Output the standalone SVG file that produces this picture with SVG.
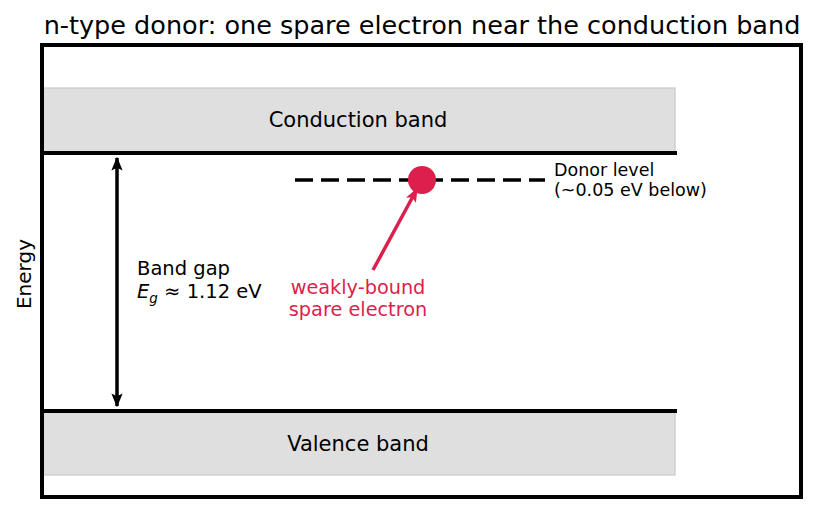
<svg xmlns="http://www.w3.org/2000/svg" width="815" height="512" viewBox="0 0 815 512">
<defs>
<style>
text{font-family:"DejaVu Sans","Liberation Sans",sans-serif;fill:#000}
.band{fill:#dfdfdf;stroke:#c8c8c8;stroke-width:1.2}
.edge{stroke:#000;stroke-width:4;fill:none}
.red{fill:#dc1f4c}
</style>
<marker id="ah" viewBox="0 0 10 10" refX="9" refY="5" markerWidth="4" markerHeight="4" orient="auto-start-reverse" markerUnits="strokeWidth">
<path d="M0,1 L10,5 L0,9 L2,5 Z" fill="#000"/>
</marker>
<marker id="ahr" viewBox="0 0 10 10" refX="9" refY="5" markerWidth="4" markerHeight="4" orient="auto" markerUnits="strokeWidth">
<path d="M0,1 L10,5 L0,9 L2,5 Z" fill="#dc1f4c"/>
</marker>
</defs>
<rect width="815" height="512" fill="#fff"/>
<text x="422" y="34" font-size="25.5" text-anchor="middle">n-type donor: one spare electron near the conduction band</text>
<text transform="translate(31,274) rotate(-90)" font-size="20" text-anchor="middle">Energy</text>
<g id="conduction-band">
<rect class="band" x="42" y="88" width="633" height="64"/>
<text x="358" y="127" font-size="21" text-anchor="middle">Conduction band</text>
</g>
<g id="valence-band">
<rect class="band" x="42" y="412" width="633" height="63"/>
<text x="358" y="451" font-size="21" text-anchor="middle">Valence band</text>
</g>
<g id="band-edges">
<line class="edge" x1="42" y1="153" x2="677" y2="153"/>
<line class="edge" x1="42" y1="411" x2="677" y2="411"/>
</g>
<g id="donor-level">
<line x1="295" y1="180" x2="545" y2="180" stroke="#000" stroke-width="3.5" stroke-dasharray="18 8"/>
<text x="554" y="176" font-size="17.5">Donor level</text>
<text x="554" y="196" font-size="17.5">(~0.05 eV below)</text>
</g>
<g id="electron">
<circle class="red" cx="422" cy="180" r="14"/>
</g>
<g id="connectors">
<line x1="117" y1="158" x2="117" y2="406" stroke="#000" stroke-width="3.5" marker-start="url(#ah)" marker-end="url(#ah)"/>
<line x1="373" y1="270" x2="417" y2="189" stroke="#dc1f4c" stroke-width="3.5" marker-end="url(#ahr)"/>
</g>
<g id="band-gap-label">
<text x="137" y="275" font-size="19.5">Band gap</text>
<text x="137" y="298" font-size="19.5"><tspan font-style="italic">E</tspan><tspan font-style="italic" font-size="13.5" dy="5">g</tspan><tspan dy="-5"> ≈ 1.12 eV</tspan></text>
</g>
<g id="electron-label">
<text class="red" x="358" y="294" font-size="19.3" text-anchor="middle">weakly-bound</text>
<text class="red" x="358" y="316" font-size="19.3" text-anchor="middle">spare electron</text>
</g>
<rect x="42" y="45" width="759" height="452" fill="none" stroke="#000" stroke-width="4"/>
</svg>
